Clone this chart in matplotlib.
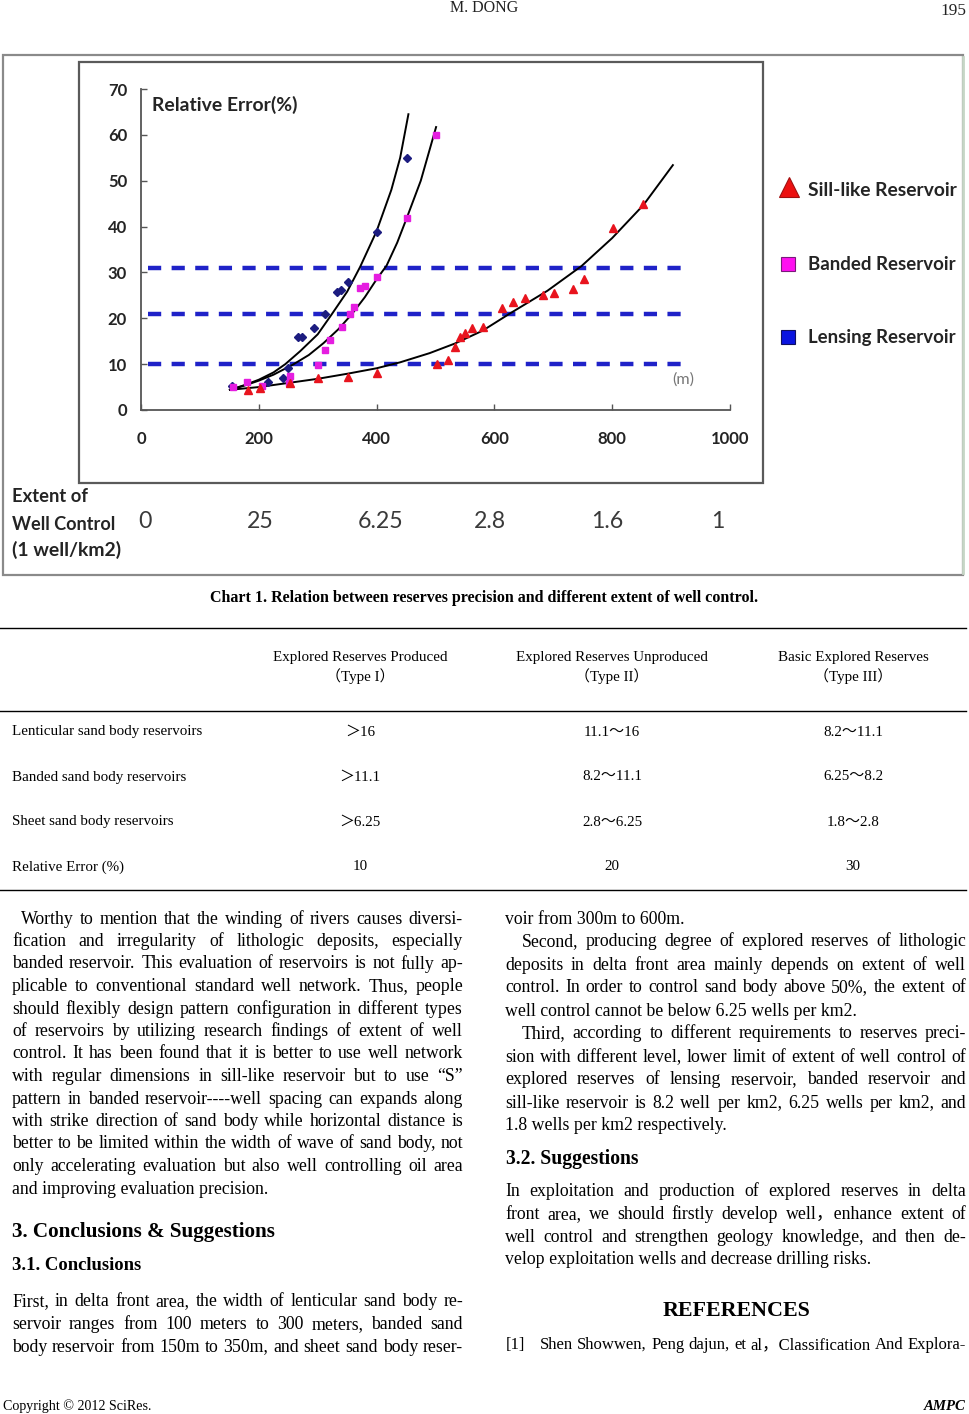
import numpy as np
import matplotlib
matplotlib.use('Agg')
import matplotlib.pyplot as plt
from matplotlib.patches import Rectangle

plt.rcParams['lines.scale_dashes'] = False

W, H = 969, 1414

# ---------------- data ----------------
x_ticks = [0, 200, 400, 600, 800, 1000]
y_ticks = [0, 10, 20, 30, 40, 50, 60, 70]
well_control_labels = ['0', '25', '6.25', '2.8', '1.6', '1']
error_levels = [10, 21, 31]

lens_x = [155, 216, 241, 250, 267, 273, 293, 312, 332, 340, 352, 400, 451]
lens_y = [5.2, 6.2, 7.0, 9.2, 16.0, 16.0, 17.8, 21.0, 25.8, 26.1, 28.0, 38.8, 54.9]

band_x = [156, 180, 205, 252, 253, 300, 312, 321, 341, 355, 361, 372, 380, 400, 451, 501]
band_y = [5.1, 6.0, 5.3, 5.8, 7.4, 9.8, 13.1, 15.3, 18.2, 20.9, 22.4, 26.7, 27.0, 29.0, 41.8, 59.9]

sill_x = [182, 202, 253, 300, 351, 400, 502, 521, 533, 542, 550, 562, 581, 613, 632,
          652, 682, 701, 734, 752, 801, 852]
sill_y = [4.4, 4.8, 5.9, 7.0, 7.3, 8.1, 10.0, 10.9, 13.7, 15.9, 16.8, 17.9, 18.1, 22.2, 23.5,
          24.4, 25.1, 25.5, 26.4, 28.5, 39.7, 44.9]

lens_curve_x = [151, 175, 200, 225, 245, 270, 300, 324, 350, 372, 400, 425, 440, 454]
lens_curve_y = [4.4, 5.4, 6.6, 8.2, 10.0, 12.8, 16.5, 20.9, 25.8, 31.2, 39.0, 48.0, 55.0, 64.5]

band_curve_x = [151, 175, 200, 225, 258, 285, 310, 335, 358, 380, 400, 417, 435, 451, 475, 501]
band_curve_y = [4.4, 5.3, 6.4, 7.7, 9.9, 12.0, 14.6, 17.6, 20.9, 24.6, 28.5, 31.5, 36.5, 41.8, 50.0, 61.7]

sill_curve_x = [151, 200, 250, 300, 350, 400, 440, 490, 533, 580, 627, 690, 748, 800, 853, 903]
sill_curve_y = [4.4, 5.0, 5.9, 6.8, 7.9, 9.1, 10.4, 12.4, 14.5, 17.3, 21.1, 26.0, 31.4, 37.5, 44.7, 53.4]

legend_labels = ['Sill-like Reservoir', 'Banded Reservoir', 'Lensing Reservoir']

table_cols = ['Explored Reserves Produced', 'Explored Reserves Unproduced', 'Basic Explored Reserves']
table_types = ['（Type I）', '（Type II）', '（Type III）']
table_rows = ['Lenticular sand body reservoirs', 'Banded sand body reservoirs',
              'Sheet sand body reservoirs', 'Relative Error (%)']
table_vals = [['＞16', '11.1～16', '8.2～11.1'],
              ['＞11.1', '8.2～11.1', '6.25～8.2'],
              ['＞6.25', '2.8～6.25', '1.8～2.8'],
              ['10', '20', '30']]

left_col = [
    ("Worthy to mention that the winding of rivers causes diversi-", True, True),
    ("fication and irregularity of lithologic deposits, especially", False, True),
    ("banded reservoir. This evaluation of reservoirs is not fully ap-", False, True),
    ("plicable to conventional standard well network. Thus, people", False, True),
    ("should flexibly design pattern configuration in different types", False, True),
    ("of reservoirs by utilizing research findings of extent of well", False, True),
    ("control. It has been found that it is better to use well network", False, True),
    ("with regular dimensions in sill-like reservoir but to use “S”", False, True),
    ("pattern in banded reservoir----well spacing can expands along", False, True),
    ("with strike direction of sand body while horizontal distance is", False, True),
    ("better to be limited within the width of wave of sand body, not", False, True),
    ("only accelerating evaluation but also well controlling oil area", False, True),
    ("and improving evaluation precision.", False, False),
]
left_col2 = [
    ("First, in delta front area, the width of lenticular sand body re-", False, True),
    ("servoir ranges from 100 meters to 300 meters, banded sand", False, True),
    ("body reservoir from 150m to 350m, and sheet sand body reser-", False, True),
]
right_col = [
    ("voir from 300m to 600m.", False, False),
    ("Second, producing degree of explored reserves of lithologic", True, True),
    ("deposits in delta front area mainly depends on extent of well", False, True),
    ("control. In order to control sand body above 50%, the extent of", False, True),
    ("well control cannot be below 6.25 wells per km2.", False, False),
    ("Third, according to different requirements to reserves preci-", True, True),
    ("sion with different level, lower limit of extent of well control of", False, True),
    ("explored reserves of lensing reservoir, banded reservoir and", False, True),
    ("sill-like reservoir is 8.2 well per km2, 6.25 wells per km2, and", False, True),
    ("1.8 wells per km2 respectively.", False, False),
]
right_col2 = [
    ("In exploitation and production of explored reserves in delta", False, True),
    ("front area, we should firstly develop well，enhance extent of", False, True),
    ("well control and strengthen geology knowledge, and then de-", False, True),
    ("velop exploitation wells and decrease drilling risks.", False, False),
]

# ---------------- figure ----------------
fig = plt.figure(figsize=(W / 100, H / 100), dpi=100)
page = fig.add_axes([0, 0, 1, 1])
page.set_xlim(0, W)
page.set_ylim(H, 0)
page.axis('off')
renderer = fig.canvas.get_renderer()

SERIF = ['Liberation Serif', 'Noto Sans CJK SC']
SANS = ['Lato', 'DejaVu Sans']
CH = '#242424'


def measure(s, **kw):
    t = page.text(0, 0, s, **kw)
    w = t.get_window_extent(renderer).width
    t.remove()
    return w


def fit_text(x, y, s, width, ha='left', **kw):
    w = measure(s, fontsize=10, **kw)
    fs = 10 * width / w
    return page.text(x, y, s, fontsize=fs, ha=ha, va='center', **kw)


def jline(x0, x1, y, s, fs, justify=True, **kw):
    if not justify:
        page.text(x0, y, s, fontsize=fs, ha='left', va='center', **kw)
        return
    words = s.split()
    ws = [measure(w, fontsize=fs, **kw) for w in words]
    gap = (x1 - x0 - sum(ws)) / (len(words) - 1)
    x = x0
    for w, wd in zip(words, ws):
        page.text(x, y, w, fontsize=fs, ha='left', va='center', **kw)
        x += wd + gap


# ---- page header ----
fit_text(484, 8, 'M. DONG', 69, ha='center', family=SERIF, color='#222')
fit_text(966, 11, '195', 26, ha='right', family=SERIF, color='#222')

# ---- chart frames ----
page.add_patch(Rectangle((3, 55), 960, 520, fill=False, ec='#8a8a8a', lw=1.6))
page.plot([963, 963], [57, 573], color='#c6d6c6', lw=2)
page.add_patch(Rectangle((79, 62), 684, 421, fill=False, ec='#5a5a5a', lw=1.6))

# ---- chart axes ----
x0p, x1p, y0p, y1p = 141, 730, 410, 89
ax = fig.add_axes([x0p / W, 1 - y0p / H, (x1p - x0p) / W, (y0p - y1p) / H])
ax.set_xlim(0, 1000)
ax.set_ylim(0, 70)
ax.patch.set_alpha(0)
for s in ['top', 'right']:
    ax.spines[s].set_visible(False)
for s in ['left', 'bottom']:
    ax.spines[s].set_color('#555555')
    ax.spines[s].set_linewidth(1.3)
ax.set_xticks(x_ticks)
ax.set_yticks(y_ticks)
ax.set_xticklabels([str(v) for v in x_ticks])
ax.set_yticklabels([str(v) for v in y_ticks])
ax.tick_params(axis='both', direction='in', length=4, width=1, color='#555555',
               labelcolor=CH, labelsize=12)
ax.tick_params(axis='x', pad=15)
ax.tick_params(axis='y', pad=10)
for lab in ax.get_xticklabels() + ax.get_yticklabels():
    lab.set_fontfamily('Lato')
    lab.set_fontweight('bold')

for lv in error_levels:
    ax.plot([12, 920], [lv, lv], color='#1f22c8', lw=3.2, dashes=(9.5, 7.5),
            solid_capstyle='butt', dash_capstyle='butt', zorder=2)

ax.plot(lens_curve_x, lens_curve_y, color='black', lw=1.4, zorder=3)
ax.plot(band_curve_x, band_curve_y, color='black', lw=1.4, zorder=3)
ax.plot(sill_curve_x, sill_curve_y, color='black', lw=1.4, zorder=3)

ax.plot(lens_x, lens_y, 'D', color='#1c1c80', ms=4.2, zorder=4)
ax.plot(band_x, band_y, 's', color='#e51de0', ms=4.8, zorder=4)
ax.plot(sill_x, sill_y, '^', color='#e8141e', ms=5.5, zorder=4)

# chart texts
fit_text(152, 105, 'Relative Error(%)', 146, family=SANS, weight='bold', color=CH)
fit_text(683, 380, '(m)', 22, ha='center', family=SANS, color='#777777')

# legend
leg_y = [190, 265, 337]
page.plot([789], [187], marker='^', ms=15, color='#ec1010', mec='#a01010', mew=0.8)
page.plot([788], [264], marker='s', ms=10.5, color='#ff10f0', mec='#7a1a7a', mew=0.8)
page.plot([788], [337], marker='s', ms=10.5, color='#0a14e0', mec='#101060', mew=0.8)
for lab, yy, wd in zip(legend_labels, leg_y, [150, 148, 148]):
    fit_text(808, yy, lab, wd, family=SANS, weight='bold', color=CH)

# well-control row
fit_text(12, 497, 'Extent of', 76, family=SANS, weight='bold', color=CH)
fit_text(12, 524, 'Well Control', 104, family=SANS, weight='bold', color=CH)
fit_text(12, 550, '(1 well/km2)', 109, family=SANS, weight='bold', color=CH)
ref = measure('6.25', fontsize=10, family=SANS)
wc_fs = 10 * 46 / ref
wc_x = [145, 260, 381, 490, 607, 718]
for lab, xx in zip(well_control_labels, wc_x):
    page.text(xx, 522, lab, fontsize=wc_fs, family=SANS, ha='center', va='center', color='#3a3a3a')

# ---- caption ----
fit_text(484, 598, 'Chart 1. Relation between reserves precision and different extent of well control.',
         550, ha='center', family=SERIF, weight='bold', color='black')

# ---- table ----
for yy in [628, 711, 890]:
    page.plot([0, 966], [yy, yy], color='black', lw=1.0)
tfs = 10.8
col_x = [360, 612, 853]
for cx, t1, t2 in zip(col_x, table_cols, table_types):
    page.text(cx, 658, t1, fontsize=tfs, family=SERIF, ha='center', va='center')
    page.text(cx, 676, t2, fontsize=tfs, family=SERIF, ha='center', va='center')
row_y = [732, 777, 822, 867]
for ry, rl, vals in zip(row_y, table_rows, table_vals):
    page.text(12, ry, rl, fontsize=tfs, family=SERIF, ha='left', va='center')
    for cx, v in zip(col_x, vals):
        page.text(cx, ry, v, fontsize=tfs, family=SERIF, ha='center', va='center')

# ---- body text ----
bfs = 12.8
LS = 22.5
y = 919
for s, ind, just in left_col:
    jline(21 if ind else 12, 463, y, s, bfs, justify=just, family=SERIF)
    y += LS
fit_text(12, 1232, '3. Conclusions & Suggestions', 265, family=SERIF, weight='bold')
fit_text(12, 1266, '3.1. Conclusions', 129, family=SERIF, weight='bold')
y = 1302
for s, ind, just in left_col2:
    jline(12, 463, y, s, bfs, justify=just, family=SERIF)
    y += LS

y = 919
for s, ind, just in right_col:
    jline(522 if ind else 505, 966, y, s, bfs, justify=just, family=SERIF)
    y += 23.0
fit_text(506, 1159, '3.2. Suggestions', 133, family=SERIF, weight='bold')
y = 1192
for s, ind, just in right_col2:
    jline(505, 966, y, s, bfs, justify=just, family=SERIF)
    y += LS
fit_text(736, 1311, 'REFERENCES', 148, ha='center', family=SERIF, weight='bold')
page.text(506, 1345, '[1]', fontsize=bfs - 0.8, family=SERIF, ha='left', va='center')
jline(540, 966, 1345, 'Shen Showwen, Peng dajun, et al，Classification And Explora-',
      bfs - 0.8, justify=True, family=SERIF)

# ---- footer ----
fit_text(3, 1406, 'Copyright © 2012 SciRes.', 149, family=SERIF)
fit_text(966, 1406, 'AMPC', 42, ha='right', family=SERIF, weight='bold', style='italic')

fig.savefig('out.png', dpi=100)
